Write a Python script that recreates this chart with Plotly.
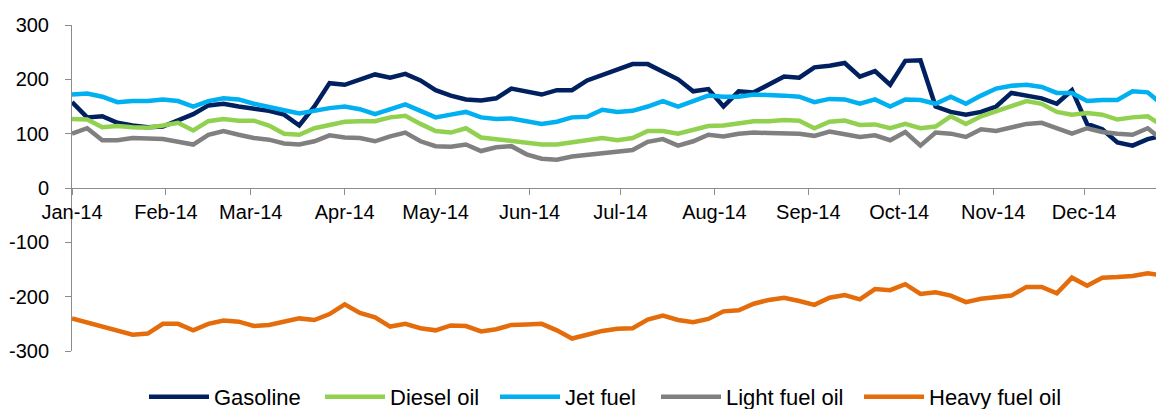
import pandas as pd
import plotly.graph_objects as go

# Observation dates (every 5 days through the year)
dates = pd.date_range("2014-01-01", periods=73, freq="5D")

gasoline = [158, 130, 132, 120, 115, 112, 113, 125, 136, 152, 155, 150, 147, 142, 135, 115, 150, 193, 190,
            200, 209, 203, 210, 198, 180, 170, 163, 161, 165, 183, 178, 172, 180, 180, 198, 208, 218,
            228, 228, 215, 200, 178, 182, 150, 178, 176, 190, 205, 203, 222, 225, 230, 205, 215, 190,
            234, 235, 150, 140, 135, 140, 150, 175, 170, 165, 155, 180, 118, 108, 84, 78, 90, 96]

diesel = [127, 126, 112, 114, 112, 111, 115, 120, 106, 123, 127, 124, 124, 115, 100, 98, 110, 115, 122,
          123, 123, 130, 133, 118, 105, 102, 110, 93, 90, 88, 84, 80, 80, 84, 86, 92, 88,
          92, 105, 105, 100, 107, 114, 115, 118, 123, 123, 125, 124, 110, 122, 124, 116, 117, 110,
          118, 110, 113, 132, 118, 132, 142, 150, 160, 155, 140, 135, 138, 135, 126, 130, 132, 114]

jet_fuel = [172, 174, 168, 158, 160, 160, 163, 160, 150, 160, 165, 163, 155, 148, 143, 137, 143, 147, 150,
            145, 136, 146, 154, 142, 130, 135, 140, 130, 127, 128, 122, 118, 122, 130, 131, 144, 140,
            142, 150, 160, 150, 160, 170, 168, 168, 172, 172, 170, 168, 158, 164, 163, 155, 163, 150,
            163, 162, 155, 168, 155, 170, 183, 188, 190, 186, 175, 175, 160, 162, 162, 178, 176, 153]

light_fuel = [100, 110, 88, 88, 92, 91, 90, 85, 80, 98, 105, 98, 92, 89, 82, 80, 86, 97, 93,
              92, 86, 95, 102, 86, 77, 76, 80, 68, 75, 77, 62, 54, 52, 58, 61, 64, 68,
              70, 85, 90, 78, 86, 98, 95, 100, 102, 101, 101, 100, 96, 104, 99, 94, 97, 88,
              103, 78, 102, 100, 94, 108, 105, 112, 118, 120, 110, 100, 110, 103, 100, 98, 110, 88]

heavy_fuel = [-240, -248, -256, -264, -270, -268, -250, -250, -262, -250, -244, -246, -254, -252, -245,
              -240, -243, -232, -214, -230, -238, -255, -250, -258, -262, -253, -254, -264, -260, -252,
              -251, -250, -262, -277, -270, -263, -259, -258, -242, -235, -243, -247, -241, -227, -225,
              -213, -206, -202, -208, -215, -202, -197, -205, -186, -188, -177, -195, -192, -198, -210,
              -204, -202, -198, -182, -182, -194, -165, -180, -165, -164, -162, -157, -161]

series_names = ["Gasoline", "Diesel oil", "Jet fuel", "Light fuel oil", "Heavy fuel oil"]
series_values = [gasoline, diesel, jet_fuel, light_fuel, heavy_fuel]
colors = ["#002060", "#92D050", "#00B0F0", "#808080", "#E46C0A"]

y_tickvals = [300, 200, 100, 0, -100, -200, -300]
y_ticktext = ["300", "200", "100", "0", "-100", "-200", "-300"]

FONT = "Arial, Liberation Sans, sans-serif"
AXIS_COLOR = "#8C8C8C"
FIG_W, FIG_H = 1156, 401  # page body adds an 8px offset, so the figure is sized 8px smaller

# left edge of each legend entry (figure pixels)
legend_left_px = [136, 312, 487, 648, 851]
legend_ids = ["legend", "legend2", "legend3", "legend4", "legend5"]

fig = go.Figure()
for name, vals, col, lid in zip(series_names, series_values, colors, legend_ids):
    fig.add_trace(go.Scatter(x=dates, y=vals, mode="lines", name=name, legend=lid,
                             line=dict(color=col, width=4.5)))

legend_layout = {}
for lid, px in zip(legend_ids, legend_left_px):
    legend_layout[lid] = dict(orientation="h", x=px / FIG_W, xanchor="left", xref="container",
                              y=0.03, yanchor="middle", yref="container",
                              font=dict(size=22, family=FONT, color="black"),
                              bgcolor="rgba(0,0,0,0)", itemwidth=60)

fig.update_layout(
    width=FIG_W, height=FIG_H,
    margin=dict(l=64, r=0, t=17, b=58, autoexpand=False),
    paper_bgcolor="white", plot_bgcolor="white",
    font=dict(family=FONT, size=20, color="black"),
    showlegend=True,
    xaxis=dict(type="date", range=["2014-01-01", "2014-12-27 09:00"],
               tickformat="%b-%y", dtick="M1", tick0="2014-01-01",
               showgrid=False, zeroline=False, showline=True, linecolor=AXIS_COLOR, linewidth=1,
               ticks="outside", ticklen=6, tickcolor=AXIS_COLOR, automargin=False,
               anchor="free", position=0.5, tickfont=dict(size=20)),
    yaxis=dict(range=[-300, 300], tickvals=y_tickvals, ticktext=y_ticktext,
               showgrid=False, zeroline=False, showline=True, linecolor=AXIS_COLOR, linewidth=1,
               ticks="outside", ticklen=6, tickcolor=AXIS_COLOR, automargin=False,
               ticklabelstandoff=12, tickfont=dict(size=20)),
    **legend_layout,
)

fig.write_html("out.html")
